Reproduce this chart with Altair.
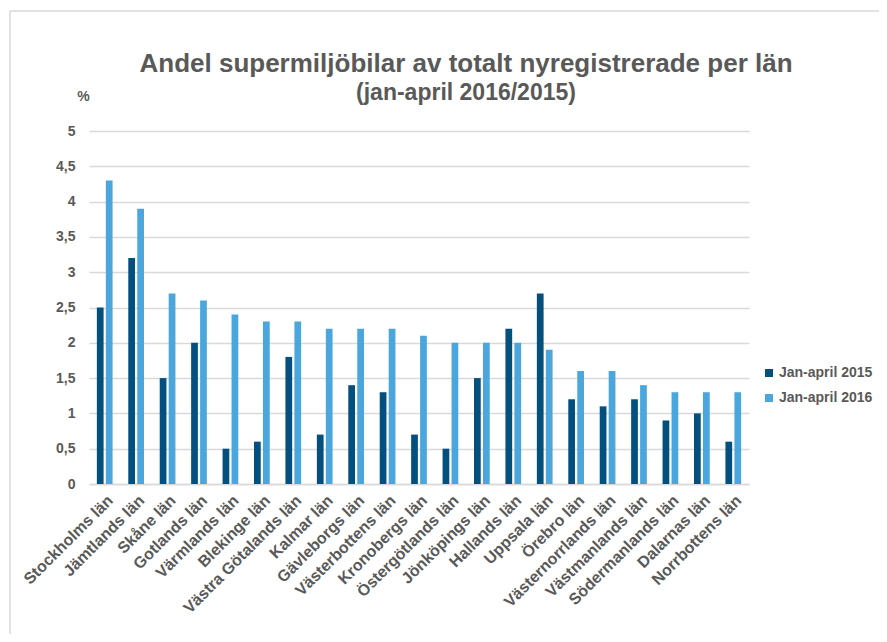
import altair as alt
import pandas as pd

counties = ["Stockholms län", "Jämtlands län", "Skåne län", "Gotlands län", "Värmlands län",
            "Blekinge län", "Västra Götalands län", "Kalmar län", "Gävleborgs län",
            "Västerbottens län", "Kronobergs län", "Östergötlands län", "Jönköpings län",
            "Hallands län", "Uppsala län", "Örebro län", "Västernorrlands län",
            "Västmanlands län", "Södermanlands län", "Dalarnas län", "Norrbottens län"]
v2015 = [2.5, 3.2, 1.5, 2.0, 0.5, 0.6, 1.8, 0.7, 1.4, 1.3, 0.7, 0.5, 1.5, 2.2, 2.7,
         1.2, 1.1, 1.2, 0.9, 1.0, 0.6]
v2016 = [4.3, 3.9, 2.7, 2.6, 2.4, 2.3, 2.3, 2.2, 2.2, 2.2, 2.1, 2.0, 2.0, 2.0, 1.9,
         1.6, 1.6, 1.4, 1.3, 1.3, 1.3]
series = ["Jan-april 2015", "Jan-april 2016"]
colors = ["#03507F", "#4AA6DC"]
title_text = "Andel supermiljöbilar av totalt nyregistrerade per län"
subtitle_text = "(jan-april 2016/2015)"

rows = []
for c, a, b in zip(counties, v2015, v2016):
    rows.append({"lan": c, "serie": series[0], "v": a})
    rows.append({"lan": c, "serie": series[1], "v": b})
df = pd.DataFrame(rows)

FONT = "Liberation Sans"
GRAY = "#595959"
GRID = "#D9D9D9"

bars = alt.Chart(df).mark_bar().encode(
    x=alt.X("lan:N", sort=counties,
            scale=alt.Scale(paddingInner=0.5, paddingOuter=0.25),
            axis=alt.Axis(title=None, labelAngle=-45, labelFontSize=16, labelFontWeight="bold",
                          labelColor=GRAY, labelFont=FONT, ticks=False, domainColor=GRID,
                          domainWidth=1.5, labelPadding=8)),
    xOffset=alt.XOffset("serie:N", sort=series, scale=alt.Scale(paddingInner=0.25, paddingOuter=0)),
    y=alt.Y("v:Q", scale=alt.Scale(domain=[0, 5], nice=False),
            axis=alt.Axis(values=[0, 0.5, 1, 1.5, 2, 2.5, 3, 3.5, 4, 4.5, 5],
                          labelExpr="replace(format(datum.value, '~g'), '.', ',')",
                          title="%", titleAngle=0, titleX=-6, titleY=-35, titleAlign="center",
                          titleBaseline="middle", titleFontSize=14, titleFontWeight="bold",
                          titleColor=GRAY, titleFont=FONT,
                          labelFontSize=14, labelFontWeight="bold", labelColor=GRAY, labelFont=FONT,
                          labelPadding=14, ticks=False, domain=False, gridColor=GRID, gridWidth=1.5)),
    color=alt.Color("serie:N", sort=series, scale=alt.Scale(domain=series, range=colors),
                    legend=alt.Legend(title=None, orient="none", legendX=673, legendY=235,
                                      padding=0, symbolType="square", symbolSize=64,
                                      symbolStrokeWidth=0, labelFontSize=14, labelFontWeight="bold",
                                      labelColor=GRAY, labelFont=FONT, rowPadding=11, labelOffset=3)),
)

one = alt.Data(values=[{}])
frame = alt.Chart(one).mark_rule(color=GRID, strokeWidth=1.5)
top_line = frame.encode(x=alt.value(-79), x2=alt.value(800), y=alt.value(-120))
left_line = frame.encode(x=alt.value(-79), y=alt.value(-120), y2=alt.value(520))

title = alt.Chart(one).mark_text(text=title_text, font=FONT, fontSize=26, fontWeight="bold",
                                 color=GRAY, align="center", baseline="alphabetic").encode(
    x=alt.value(377), y=alt.value(-59))
subtitle = alt.Chart(one).mark_text(text=subtitle_text, font=FONT, fontSize=23, fontWeight="bold",
                                    color=GRAY, align="center", baseline="alphabetic").encode(
    x=alt.value(377), y=alt.value(-31))

chart = alt.layer(top_line, left_line, title, subtitle, bars).properties(
    width=660, height=353,
    autosize=alt.AutoSizeParams(type="none"),
    padding={"left": 81, "top": 123, "right": 130, "bottom": 150},
).configure_view(stroke=None)

chart.save("out.html", embed_options={"renderer": "svg", "actions": False})
